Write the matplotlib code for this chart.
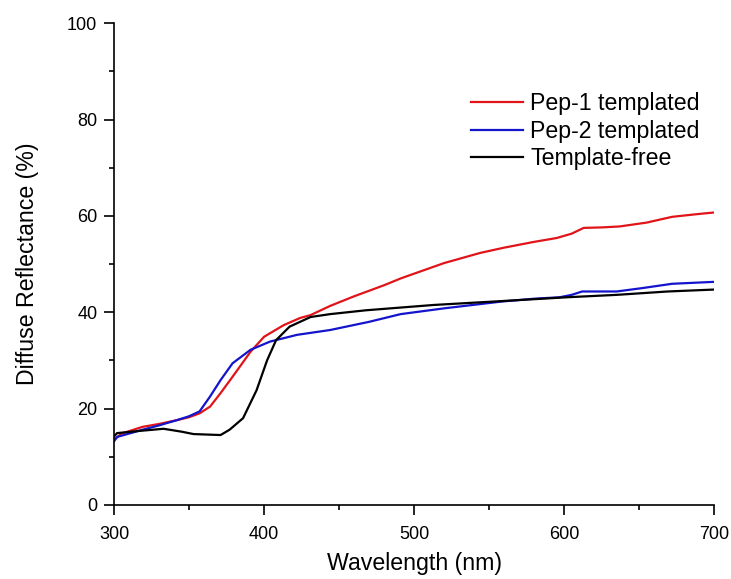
import matplotlib
matplotlib.use("Agg")
import matplotlib.pyplot as plt
from matplotlib.ticker import MultipleLocator

plt.rcParams['font.family'] = ['Liberation Sans', 'DejaVu Sans']

# values (wavelength in nm, reflectance in %)
wl_pep1 = [300, 305, 310, 319, 330, 342, 350, 357, 364, 371, 379, 391, 400, 413,
           424, 431, 444, 460, 480, 491, 500, 520, 544, 560, 580, 595, 605, 613,
           625, 637, 655, 672, 690, 700]
r_pep1 = [13.5, 14.8, 15.3, 16.2, 16.8, 17.6, 18.2, 19.0, 20.4, 23.2, 26.6, 31.8,
          34.9, 37.3, 38.8, 39.4, 41.3, 43.3, 45.6, 47.0, 48.0, 50.2, 52.3, 53.4,
          54.6, 55.4, 56.3, 57.5, 57.6, 57.8, 58.6, 59.8, 60.4, 60.7]

wl_pep2 = [300, 302, 310, 319, 330, 342, 350, 357, 364, 371, 379, 391, 404, 422,
           444, 470, 491, 520, 558, 580, 597, 605, 612, 635, 652, 672, 700]
r_pep2 = [13.2, 14.1, 14.8, 15.6, 16.5, 17.6, 18.4, 19.4, 22.5, 25.9, 29.4, 32.2,
          33.9, 35.3, 36.3, 38.0, 39.6, 40.8, 42.2, 42.8, 43.1, 43.6, 44.3, 44.3,
          45.0, 45.9, 46.3]

wl_free = [300, 302, 315, 333, 345, 353, 362, 371, 377, 386, 395, 402, 408, 417,
           424, 431, 444, 468, 513, 558, 602, 635, 669, 700]
r_free = [14.2, 14.9, 15.3, 15.8, 15.2, 14.7, 14.6, 14.5, 15.6, 18.0, 23.8, 30.0,
          34.2, 37.0, 38.0, 39.0, 39.6, 40.4, 41.5, 42.3, 43.1, 43.6, 44.3, 44.7]

fig = plt.figure(figsize=(7.31, 5.79), dpi=100)
ax = fig.add_axes([0.156, 0.128, 0.821, 0.832])

ax.plot(wl_pep1, r_pep1, color='#e01419', lw=1.6, label='Pep-1 templated')
ax.plot(wl_pep2, r_pep2, color='#1414cc', lw=1.6, label='Pep-2 templated')
ax.plot(wl_free, r_free, color='black', lw=1.6, label='Template-free')

ax.set_xlim(300, 700)
ax.set_ylim(0, 100)
ax.xaxis.set_major_locator(MultipleLocator(100))
ax.xaxis.set_minor_locator(MultipleLocator(50))
ax.yaxis.set_major_locator(MultipleLocator(20))
ax.yaxis.set_minor_locator(MultipleLocator(10))

for s in ['top', 'right']:
    ax.spines[s].set_visible(False)
for s in ['left', 'bottom']:
    ax.spines[s].set_linewidth(1.2)

ax.tick_params(which='major', direction='out', length=7, width=1.2, labelsize=13, pad=5)
ax.tick_params(axis='x', which='major', pad=8)
ax.tick_params(which='minor', direction='out', length=3.5, width=1.2)

ax.set_xlabel('Wavelength (nm)', fontsize=16.7, labelpad=7)
ax.set_ylabel('Diffuse Reflectance (%)', fontsize=16.7, labelpad=20)

ax.legend(loc='upper left', bbox_to_anchor=(0.56, 0.90), frameon=False,
          fontsize=16.7, handlelength=2.25, handletextpad=0.3, labelspacing=0.2,
          borderpad=0.4)

fig.savefig('out.png', dpi=100)
